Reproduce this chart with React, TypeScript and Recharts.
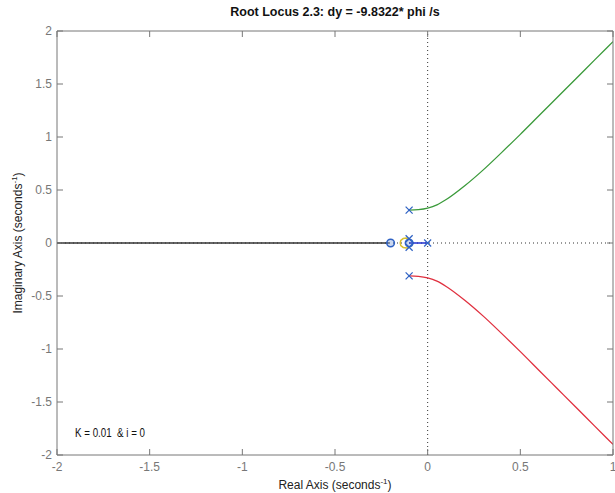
import React from 'react';
import {
  ComposedChart, Line, Scatter, XAxis, YAxis, ReferenceLine, Customized,
} from 'recharts';

const xTicks = [-2, -1.5, -1, -0.5, 0, 0.5, 1];
const yTicks = [-2, -1.5, -1, -0.5, 0, 0.5, 1, 1.5, 2];

const upperX = [-0.1, -0.05, 0, 0.05, 0.1, 0.2, 0.3, 0.4, 0.5, 0.6, 0.7, 0.8, 0.9, 1.0];
const upperY = [0.31, 0.315, 0.33, 0.36, 0.41, 0.54, 0.69, 0.855, 1.025, 1.2, 1.375, 1.55, 1.725, 1.9];
const lowerX = [-0.1, -0.05, 0, 0.05, 0.1, 0.2, 0.3, 0.4, 0.5, 0.6, 0.7, 0.8, 0.9, 1.0];
const lowerY = [-0.31, -0.315, -0.33, -0.36, -0.41, -0.54, -0.69, -0.855, -1.025, -1.2, -1.375, -1.55, -1.725, -1.9];

const realBranchX = [-2, -0.21];
const realBranchY = [0, 0];
const blueBranchX = [-0.1, 0];
const blueBranchY = [0, 0];
const loopX = [-0.1, -0.115, -0.132, -0.145, -0.148, -0.145, -0.132, -0.115, -0.1];
const loopY = [0.04, 0.046, 0.042, 0.025, 0, -0.025, -0.042, -0.046, -0.04];

const polesX = [-0.1, -0.1, -0.1, -0.1, 0];
const polesY = [0.31, -0.31, 0.04, -0.04, 0];
const zerosX = [-0.2, -0.1];
const zerosY = [0, 0];

const zip = (xs: number[], ys: number[]) => xs.map((x, i) => ({ x, y: ys[i] }));

const upper = zip(upperX, upperY);
const lower = zip(lowerX, lowerY);
const realBranch = zip(realBranchX, realBranchY);
const blueBranch = zip(blueBranchX, blueBranchY);
const loop = zip(loopX, loopY);
const poles = zip(polesX, polesY);
const zeros = zip(zerosX, zerosY);

const FONT = '"Liberation Sans", Arial, Helvetica, sans-serif';
const MARK = '#2f62c4';

const Cross = (p: any) => {
  const { cx, cy } = p;
  const s = 3.5;
  return (
    <g stroke={MARK} strokeWidth={1.2}>
      <line x1={cx - s} y1={cy - s} x2={cx + s} y2={cy + s} />
      <line x1={cx - s} y1={cy + s} x2={cx + s} y2={cy - s} />
    </g>
  );
};

const Ring = (p: any) => {
  const { cx, cy } = p;
  return <circle cx={cx} cy={cy} r={3.8} fill="rgba(47,98,196,0.25)" stroke={MARK} strokeWidth={1.5} />;
};

const Texts = () => (
  <g fontFamily={FONT}>
    <text x={335} y={16} textAnchor="middle" fontSize={12.5} fontWeight="bold" fill="#111">
      Root Locus 2.3: dy = -9.8322* phi /s
    </text>
    <text x={335} y={489} textAnchor="middle" fontSize={12} fill="#222">
      Real Axis (seconds
      <tspan dy={-5} fontSize={8}>-1</tspan>
      <tspan dy={5}>)</tspan>
    </text>
    <text
      x={0}
      y={0}
      transform="translate(22 243) rotate(-90)"
      textAnchor="middle"
      fontSize={12}
      fill="#222"
    >
      Imaginary Axis (seconds
      <tspan dy={-5} fontSize={8}>-1</tspan>
      <tspan dy={5}>)</tspan>
    </text>
    <text x={75} y={437} fontSize={12} fill="#111" xmlSpace="preserve" textLength={70} lengthAdjust="spacingAndGlyphs">
      {'K = 0.01  & i = 0'}
    </text>
  </g>
);

export default function App() {
  const tickStyle = { fill: '#777', fontSize: 12, fontFamily: FONT };
  const axisLine = { stroke: '#777', strokeWidth: 1 };
  const tickLine = { stroke: '#777', strokeWidth: 1 };
  const blank = () => '';
  return (
    <div style={{ position: 'absolute', left: 0, top: 0, width: 615, height: 493, background: '#fff' }}>
      <ComposedChart
        width={615}
        height={493}
        margin={{ top: 31, right: 2, bottom: 0, left: 0 }}
      >
        <XAxis
          xAxisId="bticks"
          dataKey="x"
          type="number"
          domain={[-2, 1]}
          ticks={xTicks}
          allowDataOverflow
          height={1}
          mirror
          tickSize={6}
          tickFormatter={blank}
          axisLine={false}
          tickLine={tickLine}
          interval={0}
        />
        <XAxis
          dataKey="x"
          type="number"
          domain={[-2, 1]}
          ticks={xTicks}
          allowDataOverflow
          height={38}
          tickSize={0}
          tickMargin={7}
          tick={tickStyle}
          axisLine={axisLine}
          tickLine={false}
          interval={0}
        />
        <XAxis
          xAxisId="top"
          orientation="top"
          dataKey="x"
          type="number"
          domain={[-2, 1]}
          ticks={xTicks}
          allowDataOverflow
          height={1}
          mirror
          tickSize={6}
          tickFormatter={blank}
          axisLine={axisLine}
          tickLine={tickLine}
          interval={0}
        />
        <YAxis
          yAxisId="lticks"
          dataKey="y"
          type="number"
          domain={[-2, 2]}
          ticks={yTicks}
          allowDataOverflow
          width={1}
          mirror
          tickSize={6}
          tickFormatter={blank}
          axisLine={false}
          tickLine={tickLine}
          interval={0}
        />
        <YAxis
          dataKey="y"
          type="number"
          domain={[-2, 2]}
          ticks={yTicks}
          allowDataOverflow
          width={57}
          tickSize={0}
          tickMargin={5}
          tick={tickStyle}
          axisLine={axisLine}
          tickLine={false}
          interval={0}
        />
        <YAxis
          yAxisId="right"
          orientation="right"
          dataKey="y"
          type="number"
          domain={[-2, 2]}
          ticks={yTicks}
          allowDataOverflow
          width={1}
          mirror
          tickSize={6}
          tickFormatter={blank}
          axisLine={axisLine}
          tickLine={tickLine}
          interval={0}
        />
        <ReferenceLine x={0} stroke="#333" strokeDasharray="1 3" strokeWidth={1} />
        <ReferenceLine y={0} stroke="#333" strokeDasharray="1 3" strokeWidth={1} />
        <Line data={realBranch} dataKey="y" stroke="#333" strokeWidth={1.5} dot={false} isAnimationActive={false} type="linear" />
        <Line data={blueBranch} dataKey="y" stroke="#1f2fd0" strokeWidth={1.5} dot={false} isAnimationActive={false} type="linear" />
        <Line data={loop} dataKey="y" stroke="#d8c030" strokeWidth={1.5} dot={false} isAnimationActive={false} type="linear" />
        <Line data={upper} dataKey="y" stroke="#3a9a3a" strokeWidth={1.3} dot={false} isAnimationActive={false} type="monotone" />
        <Line data={lower} dataKey="y" stroke="#e0303f" strokeWidth={1.3} dot={false} isAnimationActive={false} type="monotone" />
        <Scatter data={poles} dataKey="y" shape={Cross} isAnimationActive={false} />
        <Scatter data={zeros} dataKey="y" shape={Ring} isAnimationActive={false} />
        <Customized component={Texts} />
      </ComposedChart>
    </div>
  );
}
